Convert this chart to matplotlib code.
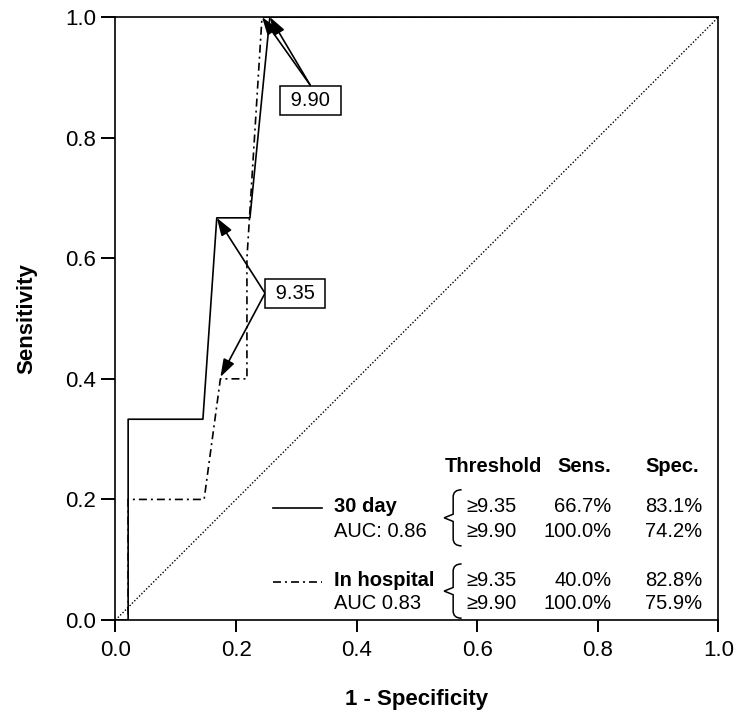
import matplotlib
matplotlib.use("Agg")
import matplotlib.pyplot as plt
from matplotlib.path import Path
from matplotlib.patches import PathPatch

plt.rcParams['font.family'] = ['Liberation Sans', 'DejaVu Sans']

# ROC curve data
fpr_30 = [0.0, 0.021, 0.021, 0.145, 0.168, 0.223, 0.256, 1.0]
tpr_30 = [0.0, 0.0, 0.333, 0.333, 0.667, 0.667, 1.0, 1.0]
fpr_ih = [0.0, 0.021, 0.021, 0.147, 0.174, 0.218, 0.218, 0.243, 1.0]
tpr_ih = [0.0, 0.0, 0.2, 0.2, 0.4, 0.4, 0.6, 1.0, 1.0]
ref_line = [0.0, 1.0]

ticks = [0.0, 0.2, 0.4, 0.6, 0.8, 1.0]
tick_labels = ['0.0', '0.2', '0.4', '0.6', '0.8', '1.0']

# annotation targets
ann_990 = [(0.243, 1.0), (0.256, 1.0)]
ann_935 = [(0.168, 0.667), (0.174, 0.403)]

# table contents
header = ['Threshold', 'Sens.', 'Spec.']
groups = ['30 day', 'In hospital']
aucs = ['AUC: 0.86', 'AUC 0.83']
thresholds = ['\u22659.35', '\u22659.90']
sens = [['66.7%', '100.0%'], ['40.0%', '100.0%']]
spec = [['83.1%', '74.2%'], ['82.8%', '75.9%']]

fig = plt.figure(figsize=(7.36, 7.13), dpi=100)
ax = fig.add_axes([0.1569, 0.1304, 0.8193, 0.8457])

dashdot = (0, (4.8, 2.4, 1.2, 2.4))
ax.plot(ref_line, ref_line, color='black', lw=1.0, linestyle=(0, (1, 1.4)))
ax.plot(fpr_ih, tpr_ih, color='black', lw=1.2, linestyle=dashdot)
ax.plot(fpr_30, tpr_30, color='black', lw=1.2, linestyle='-')

ax.set_xlim(0, 1)
ax.set_ylim(0, 1)
ax.set_xticks(ticks)
ax.set_xticklabels(tick_labels)
ax.set_yticks(ticks)
ax.set_yticklabels(tick_labels)
ax.tick_params(direction='out', width=1.4, labelsize=16)
ax.tick_params(axis='x', length=8.5, pad=6)
ax.tick_params(axis='y', length=10, pad=4)
for s in ax.spines.values():
    s.set_linewidth(1.2)

ax.set_xlabel('1 - Specificity', fontsize=16, fontweight='bold', labelpad=20)
ax.set_ylabel('Sensitivity', fontsize=16, fontweight='bold', labelpad=20)

arrow_kw = dict(arrowstyle='-|>,head_length=0.9,head_width=0.3', color='black',
                lw=1.2, mutation_scale=12, shrinkA=0, shrinkB=0)
bbox_kw = dict(boxstyle='square,pad=0.25', fc='white', ec='black', lw=1.1)

# 9.90 box
ax.annotate('', xy=ann_990[0], xytext=(0.323, 0.887), arrowprops=arrow_kw)
ax.annotate('', xy=ann_990[1], xytext=(0.323, 0.887), arrowprops=arrow_kw)
ax.text(0.323, 0.862, ' 9.90 ', fontsize=14.5, ha='center', va='center', bbox=bbox_kw)

# 9.35 box
ax.annotate('', xy=ann_935[0], xytext=(0.248, 0.542), arrowprops=arrow_kw)
ax.annotate('', xy=ann_935[1], xytext=(0.248, 0.542), arrowprops=arrow_kw)
ax.text(0.298, 0.542, ' 9.35 ', fontsize=14.5, ha='center', va='center', bbox=bbox_kw)

# table
fs = 14.5
ax.text(0.546, 0.254, header[0], fontsize=fs, fontweight='bold', ha='left', va='center')
ax.text(0.822, 0.254, header[1], fontsize=fs, fontweight='bold', ha='right', va='center')
ax.text(0.967, 0.254, header[2], fontsize=fs, fontweight='bold', ha='right', va='center')

row_y = [(0.189, 0.147), (0.066, 0.027)]
styles = ['-', dashdot]
for g in range(2):
    y1, y2 = row_y[g]
    ax.plot([0.262, 0.343], [y1 - 0.003, y1 - 0.003], color='black', lw=1.2, linestyle=styles[g])
    ax.text(0.363, y1, groups[g], fontsize=fs, fontweight='bold', ha='left', va='center')
    ax.text(0.363, y2, aucs[g], fontsize=fs, ha='left', va='center')
    for r, yy in enumerate((y1, y2)):
        ax.text(0.582, yy, thresholds[r], fontsize=fs, ha='left', va='center')
        ax.text(0.822, yy, sens[g][r], fontsize=fs, ha='right', va='center')
        ax.text(0.973, yy, spec[g][r], fontsize=fs, ha='right', va='center')
    # brace
    top, bot = y1 + 0.027, y2 - 0.024
    mid = (top + bot) / 2
    x0, xm, x1 = 0.545, 0.560, 0.574
    verts = [(x1, top), (xm, top), (xm, top - 0.012),
             (xm, mid + 0.006), (x0, mid), (xm, mid - 0.006),
             (xm, bot + 0.012), (xm, bot), (x1, bot)]
    codes = [Path.MOVETO, Path.CURVE3, Path.CURVE3,
             Path.LINETO, Path.LINETO, Path.LINETO,
             Path.LINETO, Path.CURVE3, Path.CURVE3]
    ax.add_patch(PathPatch(Path(verts, codes), fc='none', ec='black', lw=1.1))

fig.savefig('out.png', dpi=100)
